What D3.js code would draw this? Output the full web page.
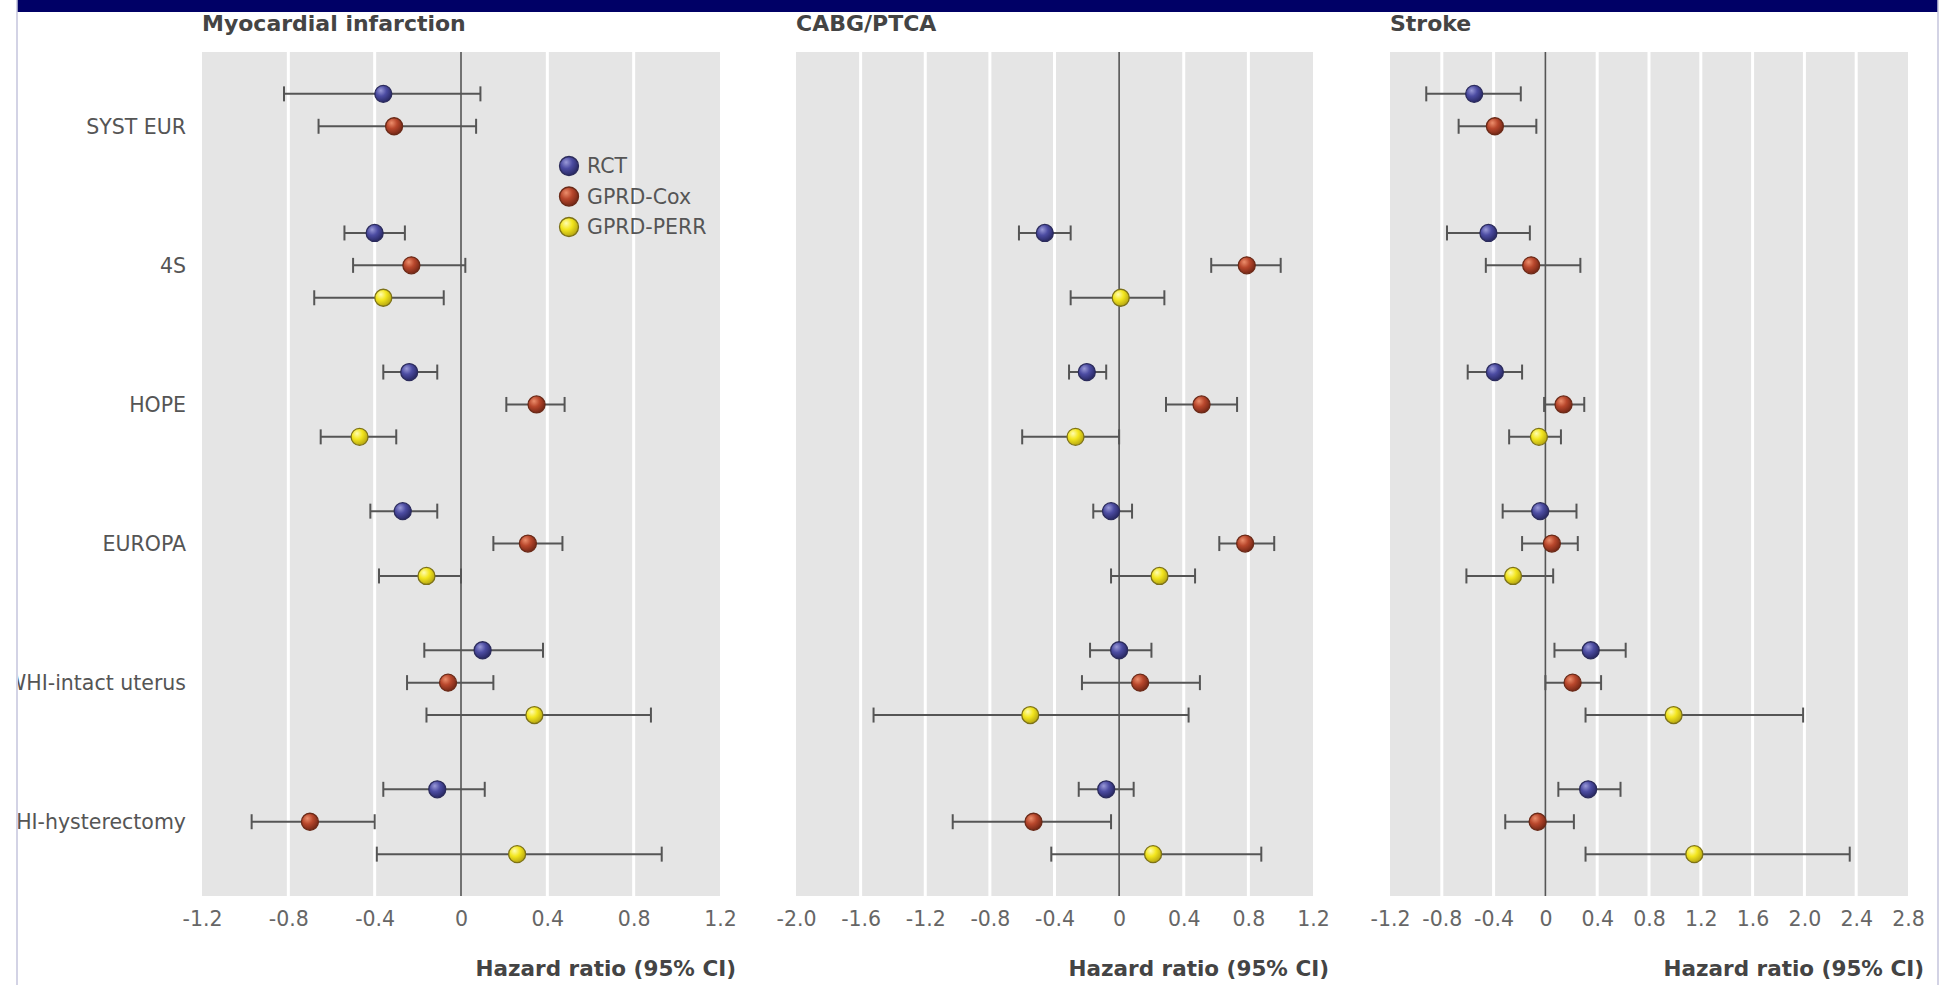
<!DOCTYPE html>
<html>
<head>
<meta charset="utf-8">
<script src="https://cdn.jsdelivr.net/npm/d3@7"></script>
<style>
  html, body { margin: 0; padding: 0; background: #fff; }
  svg { display: block; }
</style>
</head>
<body>
<svg id="chart" width="1944" height="985"></svg>
<script>
// ---------- DATA ----------
const trials = ["SYST EUR", "4S", "HOPE", "EUROPA", "WHI-intact uterus", "WHI-hysterectomy"];
const seriesNames = ["RCT", "GPRD-Cox", "GPRD-PERR"];

// [estimate, lower CI, upper CI] per trial; null = not reported
const miRCT  = [[-0.36,-0.82,0.09],[-0.40,-0.54,-0.26],[-0.24,-0.36,-0.11],[-0.27,-0.42,-0.11],[0.10,-0.17,0.38],[-0.11,-0.36,0.11]];
const miCox  = [[-0.31,-0.66,0.07],[-0.23,-0.50,0.02],[0.35,0.21,0.48],[0.31,0.15,0.47],[-0.06,-0.25,0.15],[-0.70,-0.97,-0.40]];
const miPERR = [null,[-0.36,-0.68,-0.08],[-0.47,-0.65,-0.30],[-0.16,-0.38,0.00],[0.34,-0.16,0.88],[0.26,-0.39,0.93]];

const cabgRCT  = [null,[-0.46,-0.62,-0.30],[-0.20,-0.31,-0.08],[-0.05,-0.16,0.08],[0.00,-0.18,0.20],[-0.08,-0.25,0.09]];
const cabgCox  = [null,[0.79,0.57,1.00],[0.51,0.29,0.73],[0.78,0.62,0.96],[0.13,-0.23,0.50],[-0.53,-1.03,-0.05]];
const cabgPERR = [null,[0.01,-0.30,0.28],[-0.27,-0.60,0.00],[0.25,-0.05,0.47],[-0.55,-1.52,0.43],[0.21,-0.42,0.88]];

const strokeRCT  = [[-0.55,-0.92,-0.19],[-0.44,-0.76,-0.12],[-0.39,-0.60,-0.18],[-0.04,-0.33,0.24],[0.35,0.07,0.62],[0.33,0.10,0.58]];
const strokeCox  = [[-0.39,-0.67,-0.07],[-0.11,-0.46,0.27],[0.14,-0.01,0.30],[0.05,-0.18,0.25],[0.21,0.00,0.43],[-0.06,-0.31,0.22]];
const strokePERR = [null,null,[-0.05,-0.28,0.12],[-0.25,-0.61,0.06],[0.99,0.31,1.99],[1.15,0.31,2.35]];

const miTicks     = [-1.2,-0.8,-0.4,0,0.4,0.8,1.2];
const miTickLabels = ["-1.2","-0.8","-0.4","0","0.4","0.8","1.2"];
const cabgTicks   = [-2.0,-1.6,-1.2,-0.8,-0.4,0,0.4,0.8,1.2];
const cabgTickLabels = ["-2.0","-1.6","-1.2","-0.8","-0.4","0","0.4","0.8","1.2"];
const strokeTicks = [-1.2,-0.8,-0.4,0,0.4,0.8,1.2,1.6,2.0,2.4,2.8];
const strokeTickLabels = ["-1.2","-0.8","-0.4","0","0.4","0.8","1.2","1.6","2.0","2.4","2.8"];

const panelTitles = ["Myocardial infarction", "CABG/PTCA", "Stroke"];
const axisTitle = "Hazard ratio (95% CI)";

// ---------- LAYOUT ----------
const svg = d3.select("#chart");
const W = 1944, H = 985;
const plotTop = 52, plotBottom = 896;
const font = "'DejaVu Sans', sans-serif";

const panels = [
  { title: panelTitles[0], x0: 202, x1: 720, ticks: miTicks, labels: miTickLabels, series: [miRCT, miCox, miPERR], legend: true },
  { title: panelTitles[1], x0: 796, x1: 1313, ticks: cabgTicks, labels: cabgTickLabels, series: [cabgRCT, cabgCox, cabgPERR] },
  { title: panelTitles[2], x0: 1390, x1: 1908, ticks: strokeTicks, labels: strokeTickLabels, series: [strokeRCT, strokeCox, strokePERR] }
];

// frame: navy band and light side rules
svg.append("rect").attr("x", 17).attr("y", 0).attr("width", 1938 - 17).attr("height", 12).attr("fill", "#000066");
svg.append("line").attr("x1", 17).attr("x2", 17).attr("y1", 0).attr("y2", H).attr("stroke", "#c4c4dc").attr("stroke-width", 1.5);
svg.append("line").attr("x1", 1938).attr("x2", 1938).attr("y1", 0).attr("y2", H).attr("stroke", "#c4c4dc").attr("stroke-width", 1.5);

// gradients
const defs = svg.append("defs");
const sphere = [
  { id: "gRCT",  hi: "#9a9ad8", mid: "#4c4ca2", lo: "#25255e", stroke: "#2c2c5c" },
  { id: "gCox",  hi: "#ec8e6c", mid: "#b8472c", lo: "#6e2414", stroke: "#6a2a18" },
  { id: "gPERR", hi: "#fffcb0", mid: "#f3e61e", lo: "#b0a010", stroke: "#7d7218" }
];
sphere.forEach(s => {
  const g = defs.append("radialGradient").attr("id", s.id)
    .attr("cx", "38%").attr("cy", "35%").attr("r", "70%").attr("fx", "35%").attr("fy", "30%");
  g.append("stop").attr("offset", "0%").attr("stop-color", s.hi);
  g.append("stop").attr("offset", "45%").attr("stop-color", s.mid);
  g.append("stop").attr("offset", "100%").attr("stop-color", s.lo);
});
defs.append("clipPath").attr("id", "leftClip")
  .append("rect").attr("x", 18).attr("y", 0).attr("width", W).attr("height", H);

const y = d3.scalePoint().domain(trials).range([plotTop, plotBottom]).padding(0.534);
const sub = y.step() * 0.233;
const seriesOffset = [-sub, 0, sub];

// y labels
svg.append("g").attr("clip-path", "url(#leftClip)")
  .selectAll("text").data(trials).join("text")
  .attr("x", 186).attr("y", d => y(d))
  .attr("dy", "0.36em")
  .attr("text-anchor", "end")
  .attr("font-family", font).attr("font-size", 20.5)
  .attr("fill", "#555")
  .text(d => d);

panels.forEach(p => {
  const x = d3.scaleLinear().domain([p.ticks[0], p.ticks[p.ticks.length - 1]]).range([p.x0, p.x1]);
  const g = svg.append("g");

  g.append("rect").attr("x", p.x0).attr("y", plotTop).attr("width", p.x1 - p.x0).attr("height", plotBottom - plotTop).attr("fill", "#e5e5e5");

  // gridlines
  g.selectAll("line.grid").data(p.ticks.slice(1, -1).filter(t => t !== 0)).join("line")
    .attr("class", "grid")
    .attr("x1", d => x(d)).attr("x2", d => x(d))
    .attr("y1", plotTop).attr("y2", plotBottom)
    .attr("stroke", "#ffffff").attr("stroke-width", 3);

  // zero line
  g.append("line").attr("x1", x(0)).attr("x2", x(0)).attr("y1", plotTop).attr("y2", plotBottom)
    .attr("stroke", "#555").attr("stroke-width", 1.6);

  // axis tick labels
  const axis = d3.axisBottom(x).tickValues(p.ticks).tickSize(0).tickPadding(0)
    .tickFormat((d, i) => p.labels[i]);
  const ax = g.append("g").attr("transform", `translate(0, ${plotBottom + 30})`).call(axis);
  ax.select(".domain").remove();
  ax.selectAll("text").attr("font-family", font).attr("font-size", 20.5).attr("fill", "#666").attr("dy", 0);

  // panel title
  g.append("text").attr("x", p.x0).attr("y", 31)
    .attr("font-family", font).attr("font-size", 22).attr("font-weight", "bold")
    .attr("fill", "#444").text(p.title);

  // axis title
  g.append("text").attr("x", p.x1 + 16).attr("y", 976).attr("text-anchor", "end")
    .attr("font-family", font).attr("font-size", 21.5).attr("font-weight", "bold")
    .attr("fill", "#444").text(axisTitle);

  // error bars and points
  p.series.forEach((arr, si) => {
    const pts = arr.map((d, i) => d ? { trial: trials[i], est: d[0], lo: d[1], hi: d[2] } : null).filter(d => d);
    const sg = g.append("g");
    const yy = d => y(d.trial) + seriesOffset[si];
    sg.selectAll("line.ci").data(pts).join("line")
      .attr("x1", d => x(d.lo)).attr("x2", d => x(d.hi))
      .attr("y1", yy).attr("y2", yy)
      .attr("stroke", "#555").attr("stroke-width", 2);
    sg.selectAll("line.capL").data(pts).join("line")
      .attr("x1", d => x(d.lo)).attr("x2", d => x(d.lo))
      .attr("y1", d => yy(d) - 7.5).attr("y2", d => yy(d) + 7.5)
      .attr("stroke", "#555").attr("stroke-width", 2);
    sg.selectAll("line.capR").data(pts).join("line")
      .attr("x1", d => x(d.hi)).attr("x2", d => x(d.hi))
      .attr("y1", d => yy(d) - 7.5).attr("y2", d => yy(d) + 7.5)
      .attr("stroke", "#555").attr("stroke-width", 2);
    sg.selectAll("circle").data(pts).join("circle")
      .attr("cx", d => x(d.est)).attr("cy", yy).attr("r", 8.5)
      .attr("fill", `url(#${sphere[si].id})`)
      .attr("stroke", sphere[si].stroke).attr("stroke-width", 1.3);
  });

  if (p.legend) {
    const lg = g.append("g");
    seriesNames.forEach((s, i) => {
      const ly = 166 + i * 30.5;
      lg.append("circle").attr("cx", 569).attr("cy", ly).attr("r", 9.5)
        .attr("fill", `url(#${sphere[i].id})`).attr("stroke", sphere[i].stroke).attr("stroke-width", 1.3);
      lg.append("text").attr("x", 587).attr("y", ly).attr("dy", "0.36em")
        .attr("font-family", font).attr("font-size", 20.5).attr("fill", "#555").text(s);
    });
  }
});
</script>
</body>
</html>
